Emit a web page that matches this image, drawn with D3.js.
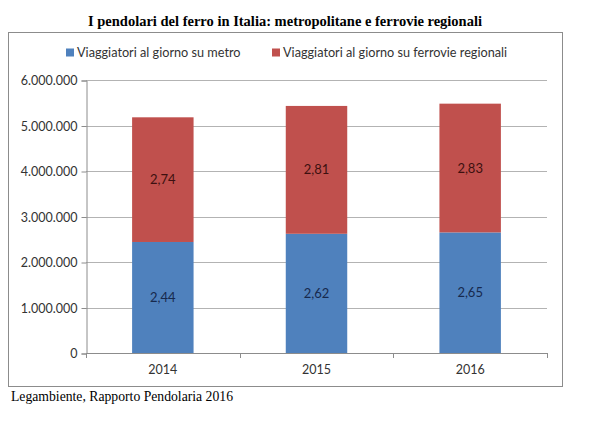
<!DOCTYPE html>
<html><head><meta charset="utf-8">
<script src="https://cdn.jsdelivr.net/npm/d3@7"></script>
<style>
html,body{margin:0;padding:0;background:#fff;}
svg{display:block;}
</style></head>
<body>
<script>
const years = ["2014", "2015", "2016"];
const metro = [2440000, 2620000, 2650000];
const regionali = [2740000, 2810000, 2830000];
const metroLabels = ["2,44", "2,62", "2,65"];
const regionaliLabels = ["2,74", "2,81", "2,83"];
const seriesNames = ["Viaggiatori al giorno su metro", "Viaggiatori al giorno su ferrovie regionali"];
const yTicks = [0, 1000000, 2000000, 3000000, 4000000, 5000000, 6000000];
const titleText = "I pendolari del ferro in Italia: metropolitane e ferrovie regionali";
const sourceText = "Legambiente, Rapporto Pendolaria 2016";

(function () {
const W = 600, H = 428;
const colors = ["#4F81BD", "#C0504D"];
const svg = d3.select("body").append("svg").attr("width", W).attr("height", H);

// title
svg.append("text").attr("x", 285).attr("y", 26).attr("text-anchor", "middle")
  .attr("font-family", "Liberation Serif, Times New Roman, serif").attr("font-weight", "bold")
  .attr("font-size", 14.5).attr("fill", "#000").text(titleText);

// frame
svg.append("rect").attr("x", 8.5).attr("y", 32.5).attr("width", 554).attr("height", 354)
  .attr("fill", "none").attr("stroke", "#8c8c8c").attr("stroke-width", 1);

const pL = 86, pR = 547, pT = 80, pB = 353;
const x = d3.scaleBand().domain(years).range([pL, pR]).paddingInner(0.6).paddingOuter(0.3);
const y = d3.scaleLinear().domain([0, 6000000]).range([pB, pT]);
const fmt = d => d3.format(",")(d).replace(/,/g, ".");

// gridlines
svg.append("g").selectAll("line").data(yTicks.filter(d => d > 0)).join("line")
  .attr("x1", pL).attr("x2", pR)
  .attr("y1", d => Math.round(y(d)) + 0.5).attr("y2", d => Math.round(y(d)) + 0.5)
  .attr("stroke", "#b3b3b3").attr("stroke-width", 1);

// y axis
const yAxis = svg.append("g").attr("transform", `translate(${pL + 0.5},0.5)`)
  .call(d3.axisLeft(y).tickValues(yTicks).tickFormat(fmt).tickSize(5).tickPadding(4));
yAxis.select(".domain").attr("stroke", "#8c8c8c");
yAxis.selectAll(".tick line").attr("stroke", "#8c8c8c");
yAxis.selectAll("text").attr("font-family", "Lato, Open Sans, sans-serif").attr("font-size", 12.5).attr("fill", "#333");

// bars
const stackData = years.map((yr, i) => ({ year: yr, metro: metro[i], regionali: regionali[i] }));
const stack = d3.stack().keys(["metro", "regionali"])(stackData);
const labels = [metroLabels, regionaliLabels];
const labelColors = ["#17294d", "#3d1010"];
stack.forEach((s, si) => {
  const g = svg.append("g");
  g.selectAll("rect").data(s).join("rect")
    .attr("x", d => x(d.data.year)).attr("width", x.bandwidth())
    .attr("y", d => y(d[1])).attr("height", d => y(d[0]) - y(d[1]))
    .attr("fill", colors[si]);
  g.selectAll("text").data(s).join("text")
    .attr("x", d => x(d.data.year) + x.bandwidth() / 2)
    .attr("y", d => (y(d[0]) + y(d[1])) / 2 + 4.5)
    .attr("text-anchor", "middle")
    .attr("font-family", "Lato, Open Sans, sans-serif").attr("font-size", 13)
    .attr("fill", labelColors[si])
    .text((d, i) => labels[si][i]);
});

// x axis
const xAxis = svg.append("g").attr("transform", `translate(0,${pB + 0.5})`)
  .call(d3.axisBottom(x).tickSize(0).tickPadding(12));
xAxis.select(".domain").attr("stroke", "#8c8c8c").attr("d", `M${pL},0H${pR}`);
xAxis.selectAll("text").attr("font-family", "Lato, Open Sans, sans-serif").attr("font-size", 12.5).attr("fill", "#333");
// category boundary ticks
const bounds = [pL].concat(years.map(yr => x(yr) + x.bandwidth() + x.step() * 0.3));
svg.append("g").selectAll("line").data(bounds).join("line")
  .attr("x1", d => Math.round(d) + 0.5).attr("x2", d => Math.round(d) + 0.5)
  .attr("y1", pB).attr("y2", pB + 5)
  .attr("stroke", "#8c8c8c");

// legend
const legendX = [66, 272];
seriesNames.forEach((n, i) => {
  svg.append("rect").attr("x", legendX[i]).attr("y", 48.5).attr("width", 8).attr("height", 8).attr("fill", colors[i]);
  svg.append("text").attr("x", legendX[i] + 11).attr("y", 56.5)
    .attr("font-family", "Lato, Open Sans, sans-serif").attr("font-size", 12.7).attr("fill", "#333").text(n);
});

// source
svg.append("text").attr("x", 11).attr("y", 401)
  .attr("font-family", "Liberation Serif, Times New Roman, serif").attr("font-size", 13.7)
  .attr("fill", "#000").text(sourceText);
})();
</script>
</body></html>
